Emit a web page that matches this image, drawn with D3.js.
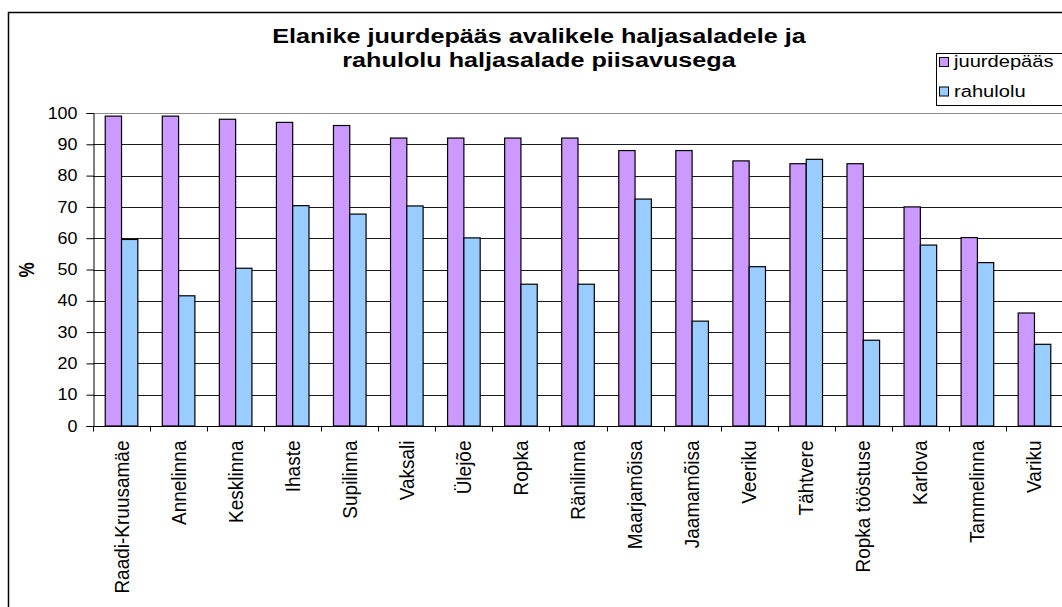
<!DOCTYPE html>
<html>
<head>
<meta charset="utf-8">
<script src="https://cdn.jsdelivr.net/npm/d3@7"></script>
<style>
  html, body { margin: 0; padding: 0; background: #fff; }
  svg { display: block; font-family: "Liberation Sans", Arial, sans-serif; }
</style>
</head>
<body>
<svg id="chart" width="1062" height="607"></svg>
<script>
(function() {

  // ----------
  var districts = ['Raadi-Kruusamäe', 'Annelinna', 'Kesklinna', 'Ihaste', 'Supilinna', 'Vaksali',
    'Ülejõe', 'Ropka', 'Ränilinna', 'Maarjamõisa', 'Jaamamõisa', 'Veeriku', 'Tähtvere',
    'Ropka tööstuse', 'Karlova', 'Tammelinna', 'Variku'];
  var access = [99, 99, 98, 97, 96, 92, 92, 92, 92, 88, 88, 84.7, 83.8, 83.8, 70, 60.2, 36.1];
  var satisfaction = [59.6, 41.6, 50.4, 70.4, 67.7, 70.3, 60.1, 45.3, 45.3, 72.5, 33.5, 50.9, 85.2, 27.4, 57.8, 52.2, 26.1];
  var seriesNames = ['juurdepääs', 'rahulolu'];
  var seriesColors = ['#cc99ff', '#99ccff'];
  var yTicks = [0, 10, 20, 30, 40, 50, 60, 70, 80, 90, 100];
  var titleLines = ['Elanike juurdepääs avalikele haljasaladele ja', 'rahulolu haljasalade piisavusega'];

  var svg = d3.select('#chart');
  var plot = { left: 93, right: 1063, top: 113, bottom: 426 };

  // chart area border
  svg.append('rect')
    .attr('x', 8.5).attr('y', 12.5)
    .attr('width', 1100).attr('height', 700)
    .style('fill', '#fff').style('stroke', '#000').style('stroke-width', 1.5);

  var x = d3.scaleBand()
    .domain(districts)
    .range([plot.left, plot.right])
    .paddingInner(0)
    .paddingOuter(0);

  // gap width 150% -> group = 2 bars, gaps = 1.5 bars
  var barW = x.bandwidth() / 3.5;
  var x1 = d3.scaleBand()
    .domain(seriesNames)
    .range([x.bandwidth() / 2 - barW, x.bandwidth() / 2 + barW]);

  var y = d3.scaleLinear().domain([0, 100]).range([plot.bottom, plot.top]);

  // ----------
  // gridlines
  svg.append('g')
    .selectAll('line')
    .data(yTicks.filter(function(d) { return d > 0; }))
    .join('line')
    .attr('x1', plot.left).attr('x2', plot.right)
    .attr('y1', function(d) { return Math.round(y(d)) + 0.5; })
    .attr('y2', function(d) { return Math.round(y(d)) + 0.5; })
    .style('stroke', function(d) { return d === 100 ? '#8c8c8c' : '#1a1a1a'; })
    .style('stroke-width', 1);

  // ----------
  // bars
  var data = [access, satisfaction];
  var groups = svg.append('g')
    .selectAll('g')
    .data(districts)
    .join('g')
    .attr('transform', function(d) { return 'translate(' + x(d) + ',0)'; });

  groups.selectAll('rect')
    .data(function(d, i) {
      return seriesNames.map(function(s, j) { return { series: s, value: data[j][i], color: seriesColors[j] }; });
    })
    .join('rect')
    .attr('x', function(d) { return x1(d.series); })
    .attr('width', x1.bandwidth())
    .attr('y', function(d) { return y(d.value); })
    .attr('height', function(d) { return y(0) - y(d.value); })
    .style('fill', function(d) { return d.color; })
    .style('stroke', '#000')
    .style('stroke-width', 1.2);

  // ----------
  // y axis
  var yAxis = svg.append('g')
    .attr('transform', 'translate(' + (plot.left + 0.5) + ',0)')
    .call(d3.axisLeft(y).tickValues(yTicks).tickSize(7).tickPadding(9));
  yAxis.select('.domain').style('stroke', '#000');
  yAxis.selectAll('.tick line').style('stroke', '#000');
  yAxis.selectAll('.tick text')
    .attr('x', null)
    .attr('transform', 'translate(-16,0) scale(1.12,1)')
    .style('font-family', '"Liberation Sans", Arial, sans-serif')
    .style('font-size', '16px')
    .style('fill', '#000');

  // x axis with ticks on category boundaries
  var xAxisG = svg.append('g').attr('transform', 'translate(0,' + (plot.bottom + 0.5) + ')');
  xAxisG.append('line')
    .attr('x1', plot.left).attr('x2', plot.right)
    .style('stroke', '#000');
  xAxisG.selectAll('line.bound')
    .data(districts.concat(['__end']))
    .join('line')
    .attr('class', 'bound')
    .attr('x1', function(d, i) { return Math.round(plot.left + i * x.step()) + 0.5; })
    .attr('x2', function(d, i) { return Math.round(plot.left + i * x.step()) + 0.5; })
    .attr('y1', 0).attr('y2', 5)
    .style('stroke', '#000');

  xAxisG.selectAll('text')
    .data(districts)
    .join('text')
    .attr('transform', function(d) {
      return 'translate(' + (x(d) + x.bandwidth() / 2 + 7) + ',14) rotate(-90) scale(1,1.1)';
    })
    .attr('text-anchor', 'end')
    .style('font-size', '19px')
    .style('fill', '#000')
    .text(function(d) { return d; });

  // y axis title
  svg.append('text')
    .attr('transform', 'translate(34,270) rotate(-90) scale(1,1.3)')
    .attr('text-anchor', 'middle')
    .style('font-size', '17px')
    .style('font-weight', 'bold')
    .text('%');

  // ----------
  // title
  svg.append('text')
    .attr('transform', 'translate(539,0) scale(1.2,1)')
    .attr('y', 43)
    .attr('text-anchor', 'middle')
    .style('font-size', '21px')
    .style('font-weight', 'bold')
    .selectAll('tspan')
    .data(titleLines)
    .join('tspan')
    .attr('x', 0)
    .attr('dy', function(d, i) { return i === 0 ? 0 : 24; })
    .text(function(d) { return d; });

  // ----------
  // legend
  var legend = svg.append('g').attr('transform', 'translate(936,53)');
  legend.append('rect')
    .attr('x', 0.5).attr('y', 0.5)
    .attr('width', 130).attr('height', 52)
    .style('fill', '#fff').style('stroke', '#000');

  var items = legend.selectAll('g.item')
    .data(seriesNames)
    .join('g')
    .attr('class', 'item')
    .attr('transform', function(d, i) { return 'translate(0,' + (i * 29.5) + ')'; });

  items.append('rect')
    .attr('x', 3.5).attr('y', 4.5)
    .attr('width', 9).attr('height', 9)
    .style('fill', function(d, i) { return seriesColors[i]; })
    .style('stroke', '#000');

  items.append('text')
    .attr('transform', 'translate(18,14) scale(1.22,1)')
    .style('font-size', '16.5px')
    .text(function(d) { return d; });

})();
</script>
</body>
</html>
